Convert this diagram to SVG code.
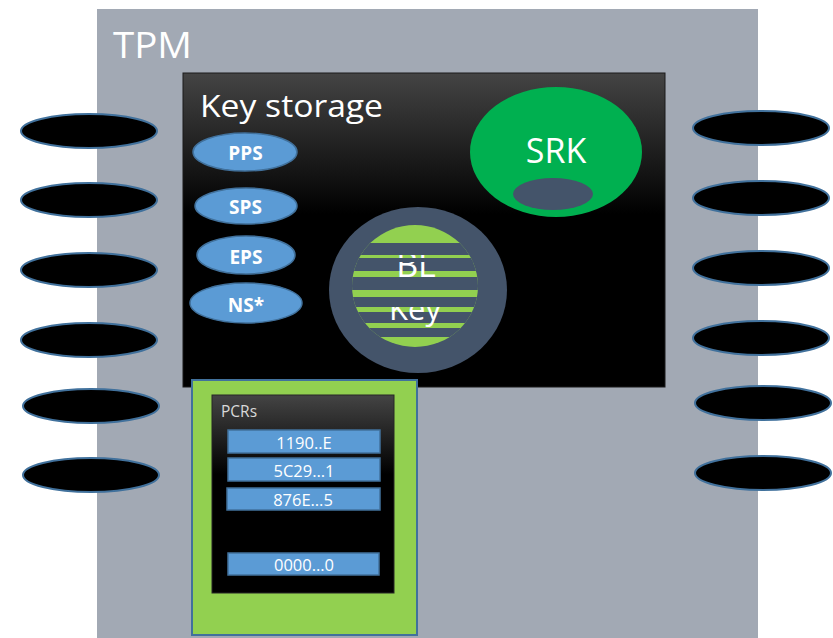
<svg xmlns="http://www.w3.org/2000/svg" width="833" height="638" viewBox="0 0 833 638">
<defs>
<linearGradient id="darkGrad" x1="0" y1="0" x2="0" y2="1">
<stop offset="0" stop-color="#444444"/>
<stop offset="0.45" stop-color="#000000"/>
<stop offset="1" stop-color="#000000"/>
</linearGradient>
<linearGradient id="pcrGrad" x1="0" y1="0" x2="0" y2="1">
<stop offset="0" stop-color="#444444"/>
<stop offset="0.4" stop-color="#000000"/>
<stop offset="1" stop-color="#000000"/>
</linearGradient>
<clipPath id="greenClip"><ellipse cx="415" cy="286" rx="63" ry="61"/></clipPath>
</defs>
<style>
.pin{fill:#000000;stroke:#41719c;stroke-width:2}
.hier{fill:#5b9bd5;stroke:#41719c;stroke-width:1.5}
.hierTxt{font-family:"Open Sans","Liberation Sans",sans-serif;font-weight:bold;font-size:19px;fill:#ffffff;text-anchor:middle}
.pcr{fill:#5b9bd5;stroke:#41719c;stroke-width:1.5}
.pcrTxt{font-family:"Open Sans","Liberation Sans",sans-serif;font-size:16.5px;fill:#ffffff;text-anchor:middle}
.big{font-family:"Open Sans","Liberation Sans",sans-serif;fill:#ffffff}
.stripe{fill:#44546a}
</style>
<rect width="833" height="638" fill="#ffffff"/>
<g id="tpm">
<rect x="97" y="9" width="661" height="640" fill="#a2a9b4"/>
<text class="big" x="113" y="58" font-size="36" textLength="79" lengthAdjust="spacingAndGlyphs" fill="#f2f2f2">TPM</text>
</g>
<g id="pins-left">
<ellipse class="pin" cx="89" cy="131" rx="68" ry="17"/>
<ellipse class="pin" cx="89" cy="200" rx="68" ry="17"/>
<ellipse class="pin" cx="89" cy="270" rx="68" ry="17"/>
<ellipse class="pin" cx="89" cy="340" rx="68" ry="17"/>
<ellipse class="pin" cx="91" cy="406" rx="68" ry="17"/>
<ellipse class="pin" cx="91" cy="475" rx="68" ry="17"/>
</g>
<g id="pins-right">
<ellipse class="pin" cx="761" cy="128" rx="68" ry="17"/>
<ellipse class="pin" cx="761" cy="198" rx="68" ry="17"/>
<ellipse class="pin" cx="761" cy="268" rx="68" ry="17"/>
<ellipse class="pin" cx="761" cy="338" rx="68" ry="17"/>
<ellipse class="pin" cx="763" cy="403" rx="68" ry="17"/>
<ellipse class="pin" cx="763" cy="473" rx="68" ry="17"/>
</g>
<g id="key-storage">
<rect x="183" y="73" width="482" height="314" fill="url(#darkGrad)" stroke="#1a1a1a" stroke-width="1"/>
<text class="big" x="200" y="117" font-size="31" textLength="183" lengthAdjust="spacingAndGlyphs">Key storage</text>
</g>
<g id="pps">
<ellipse class="hier" cx="245" cy="152" rx="52" ry="19"/>
<text class="hierTxt" x="245.5" y="160">PPS</text>
</g>
<g id="sps">
<ellipse class="hier" cx="246" cy="206" rx="51" ry="18"/>
<text class="hierTxt" x="245.5" y="214">SPS</text>
</g>
<g id="eps">
<ellipse class="hier" cx="246" cy="255" rx="49" ry="19"/>
<text class="hierTxt" x="246" y="264">EPS</text>
</g>
<g id="ns">
<ellipse class="hier" cx="246" cy="303" rx="56" ry="20"/>
<text class="hierTxt" x="246" y="312">NS*</text>
</g>
<g id="srk">
<ellipse cx="556" cy="152" rx="86" ry="65" fill="#00b050"/>
<text class="big" x="556" y="163" font-size="34" text-anchor="middle">SRK</text>
<ellipse cx="553" cy="194" rx="40" ry="16" fill="#44546a"/>
</g>
<g id="bl-key">
<ellipse cx="418" cy="290" rx="89" ry="83" fill="#44546a"/>
<g clip-path="url(#greenClip)">
<rect x="340" y="220" width="150" height="135" fill="#92d050"/>
<rect class="stripe" x="340" y="260" width="150" height="11"/>
<rect class="stripe" x="340" y="277" width="150" height="13"/>
<rect class="stripe" x="340" y="312" width="150" height="11"/>
<rect class="stripe" x="340" y="328" width="150" height="9"/>
</g>
<text class="big" x="416" y="277" font-size="34" text-anchor="middle">BL</text>
<text class="big" x="415" y="320" font-size="31" text-anchor="middle">Key</text>
<g clip-path="url(#greenClip)">
<rect class="stripe" x="340" y="243" width="150" height="12"/>
<rect class="stripe" x="340" y="258" width="150" height="4"/>
<rect class="stripe" x="340" y="297" width="150" height="10"/>
</g>
</g>
<g id="pcrs">
<rect x="192" y="380" width="225" height="255" fill="#92d050" stroke="#41719c" stroke-width="2"/>
<rect x="212" y="395" width="182" height="198" fill="url(#pcrGrad)" stroke="#262626" stroke-width="1"/>
<text x="221" y="417" font-family="Open Sans, Liberation Sans, sans-serif" font-size="15.5" fill="#d9d9d9">PCRs</text>
<rect class="pcr" x="228" y="430" width="152" height="23"/>
<text class="pcrTxt" x="304" y="449">1190..E</text>
<rect class="pcr" x="228" y="458" width="152" height="23"/>
<text class="pcrTxt" x="304" y="477">5C29…1</text>
<rect class="pcr" x="227" y="488" width="153" height="22"/>
<text class="pcrTxt" x="303" y="506">876E…5</text>
<rect class="pcr" x="228" y="553" width="151" height="22"/>
<text class="pcrTxt" x="304" y="571">0000…0</text>
</g>
<g id="connectors"/>
</svg>
